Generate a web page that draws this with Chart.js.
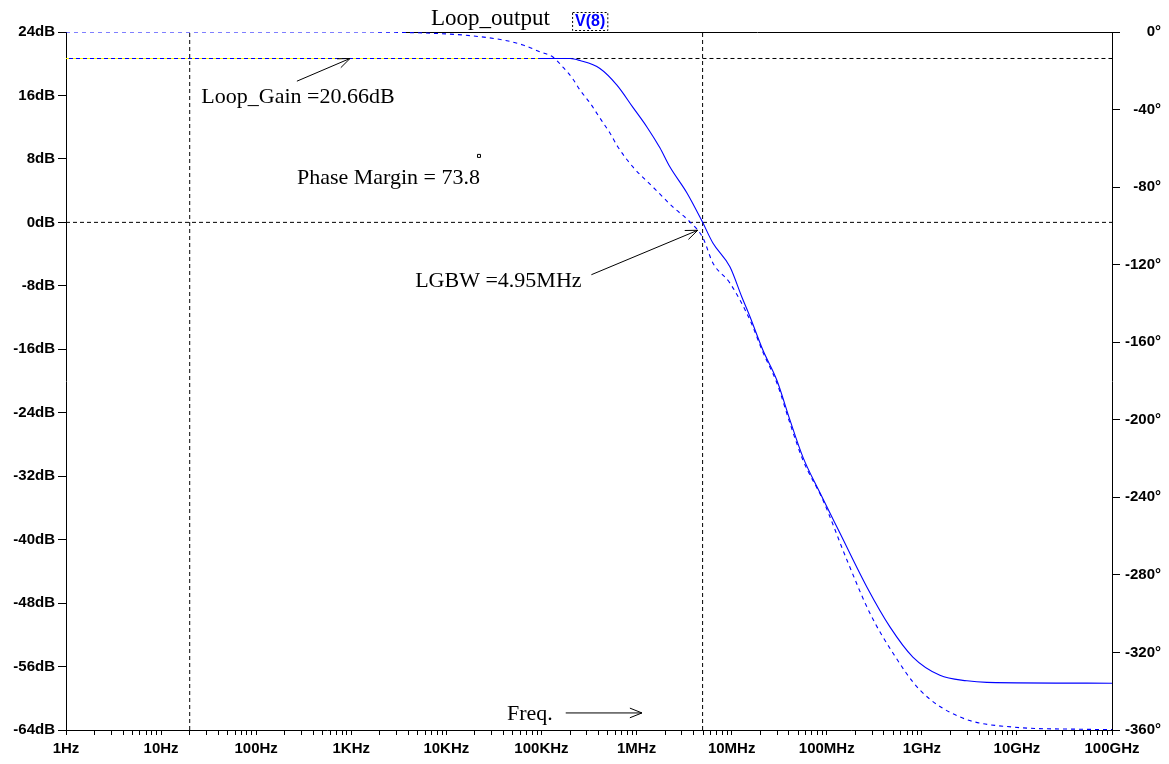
<!DOCTYPE html>
<html>
<head>
<meta charset="utf-8">
<script src="https://cdn.jsdelivr.net/npm/chart.js@4"></script>
<style>
  html, body { margin: 0; padding: 0; background: #fff; }
  #wrap { width: 1169px; height: 764px; }
</style>
</head>
<body>
<div id="wrap"><canvas id="loopChart" width="1169" height="764"></canvas></div>
<script>
// loop gain (solid) - Hz / dB
const gainFreqs = [1, 10, 100, 1e3, 1e4, 1e5, 2e5, 2.54e5, 4.12e5, 6.22e5, 9.16e5, 1.29e6, 1.76e6, 2.24e6,
  3.39e6, 4.95e6, 6.35e6, 9.59e6, 1.28e7, 1.56e7, 2.13e7, 2.99e7, 4.1e7, 5.62e7, 8.49e7, 1.38e8, 2.65e8,
  4.62e8, 8.05e8, 1.55e9, 2.98e9, 4.84e9, 1e11];
const gainDb = [20.66, 20.66, 20.66, 20.66, 20.66, 20.66, 20.66, 20.4, 19.4, 17.3, 14.5, 12.0, 9.4, 7.0,
  3.7, 0, -2.6, -5.6, -9.4, -11.9, -16.1, -19.9, -24.9, -29.6, -34.1, -39.2, -46.0,
  -51.0, -54.8, -57.1, -57.8, -58.0, -58.1];

// loop phase (dashed) - Hz / degrees
const phaseFreqs = [1, 1e3, 1.01e4, 2.25e4, 4.34e4, 6.38e4, 9.64e4, 1.32e5, 1.68e5, 2.14e5, 2.54e5, 3.24e5,
  4.12e5, 5.25e5, 6.37e5, 9.16e5, 1.49e6, 2.42e6, 3.65e6, 4.99e6, 6.35e6, 9.59e6, 1.56e7, 2.13e7, 2.99e7,
  4.1e7, 5.62e7, 9.12e7, 1.63e8, 2.84e8, 4.97e8, 9.55e8, 2.52e9, 9.08e9, 4.57e10, 1e11];
const phaseDeg = [0, 0, -1.0, -2.4, -4.5, -6.7, -10.2, -12.9, -18.1, -24.2, -29.9, -36.6,
  -44.4, -52.1, -59.3, -69.6, -80.0, -90.3, -98.0, -106.2, -119.1, -129.5, -148.6, -165.1, -181.0,
  -201.7, -220.8, -241.4, -272.3, -299.7, -320.3, -339.4, -353.3, -358.5, -359.6, -359.8];

const freqTickLabels = ["1Hz", "10Hz", "100Hz", "1KHz", "10KHz", "100KHz", "1MHz", "10MHz", "100MHz", "1GHz", "10GHz", "100GHz"];
const dbRange = [-64, 24];
const degRange = [-360, 0];

// cursors
const loopGain = 20.66;
const lgbwFreq = 4.95e6;
const cursorFreq = 20;
const yellowEndFreq = 1e5;

const BLUE = "#0000ff";
const serif = "'Liberation Serif', 'Times New Roman', serif";
const axisFont = { family: "'Liberation Sans', Arial, sans-serif", size: 15, weight: "bold" };

const pts = (xs, ys) => xs.map((f, i) => ({ x: f, y: ys[i] }));

function arrow(ctx, x1, y1, x2, y2) {
  const a = Math.atan2(y2 - y1, x2 - x1);
  const h = 13, s = 0.38;
  ctx.beginPath();
  ctx.moveTo(x1, y1);
  ctx.lineTo(x2, y2);
  ctx.moveTo(x2 - h * Math.cos(a - s), y2 - h * Math.sin(a - s));
  ctx.lineTo(x2, y2);
  ctx.lineTo(x2 - h * Math.cos(a + s), y2 - h * Math.sin(a + s));
  ctx.stroke();
}

const frame = {
  id: "frame",
  beforeDatasetsDraw(chart) {
    const { ctx, chartArea: area, scales: { x } } = chart;
    ctx.save();
    ctx.strokeStyle = "#000";
    ctx.lineWidth = 1;
    ctx.beginPath();
    ctx.moveTo(x.getPixelForValue(3.5e3), area.top + 0.5);
    ctx.lineTo(area.right, area.top + 0.5);
    ctx.stroke();
    ctx.restore();
  },
  afterDraw(chart) {
    const { ctx, chartArea: area, scales: { x, y } } = chart;
    ctx.save();
    ctx.fillStyle = "#000";
    ctx.strokeStyle = "#000";
    ctx.lineWidth = 1;
    ctx.textBaseline = "alphabetic";
    ctx.font = "22px " + serif;

    // Loop gain note
    ctx.fillText("Loop_Gain =20.66dB", x.getPixelForValue(26.5), y.getPixelForValue(15.05));
    arrow(ctx, x.getPixelForValue(268), y.getPixelForValue(17.8), x.getPixelForValue(970), y.getPixelForValue(loopGain));

    // phase margin note
    const pmText = "Phase Margin = 73.8";
    const pmX = x.getPixelForValue(268), pmY = y.getPixelForValue(4.85);
    ctx.fillText(pmText, pmX, pmY);
    const pmEnd = pmX + ctx.measureText(pmText).width;
    ctx.beginPath();
    ctx.rect(pmEnd - 2.5, pmY - 29.5, 3, 3);
    ctx.stroke();

    // LGBW note
    ctx.fillText("LGBW =4.95MHz", x.getPixelForValue(4.7e3), y.getPixelForValue(-8.15));
    arrow(ctx, x.getPixelForValue(3.35e5), y.getPixelForValue(-6.6), x.getPixelForValue(4.4e6), y.getPixelForValue(-1.0));

    // Freq. arrow
    ctx.fillText("Freq.", x.getPixelForValue(4.34e4), y.getPixelForValue(-62.7));
    arrow(ctx, x.getPixelForValue(1.8e5), y.getPixelForValue(-61.85), x.getPixelForValue(1.14e6), y.getPixelForValue(-61.85));

    // title + trace legend
    ctx.font = "23px " + serif;
    ctx.fillText("Loop_output", x.getPixelForValue(6.9e3), area.top - 7);
    ctx.font = "bold 16px 'Liberation Sans Narrow', 'Liberation Sans', sans-serif";
    const lx = x.getPixelForValue(2.1e5);
    const lw = ctx.measureText("V(8)").width;
    ctx.fillStyle = BLUE;
    ctx.fillText("V(8)", lx + 3, area.top - 6);
    ctx.setLineDash([2, 2]);
    ctx.strokeStyle = "#000";
    ctx.strokeRect(lx + 0.5, area.top - 19.5, lw + 5, 18);
    ctx.restore();
  }
};

const xTickValues = [];
for (let e = 0; e <= 10; e++) {
  for (let m = 1; m <= 9; m++) xTickValues.push(m * Math.pow(10, e));
}
xTickValues.push(1e11);

new Chart(document.getElementById("loopChart"), {
  type: "line",
  data: {
    datasets: [
      {
        label: "yellow cursor",
        data: pts([1, yellowEndFreq], [loopGain, loopGain]),
        borderColor: "#ffff00",
        borderWidth: 1.2,
        borderDash: [3, 4],
        yAxisID: "y",
        order: 1,
      },
      {
        label: "Loop_output gain",
        data: pts(gainFreqs, gainDb),
        borderColor: BLUE,
        borderWidth: 1.1,
        cubicInterpolationMode: "monotone",
        yAxisID: "y",
        order: 2,
      },
      {
        label: "Loop_output phase",
        data: pts(phaseFreqs, phaseDeg),
        borderColor: BLUE,
        borderWidth: 1.1,
        borderDash: [4, 4],
        cubicInterpolationMode: "monotone",
        yAxisID: "y1",
        order: 3,
      },
      {
        label: "gain cursor",
        data: pts([yellowEndFreq, 1e11], [loopGain, loopGain]),
        borderColor: "#000",
        borderWidth: 1,
        borderDash: [4, 3],
        yAxisID: "y",
        order: 4,
      },
      {
        label: "0dB",
        data: pts([1, 1e11], [0, 0]),
        borderColor: "#000",
        borderWidth: 1,
        borderDash: [4, 3],
        yAxisID: "y",
        order: 4,
      },
      {
        label: "20Hz cursor",
        data: pts([cursorFreq, cursorFreq], dbRange),
        borderColor: "#000",
        borderWidth: 1,
        borderDash: [4, 3],
        yAxisID: "y",
        order: 4,
      },
      {
        label: "LGBW cursor",
        data: pts([lgbwFreq, lgbwFreq], dbRange),
        borderColor: "#000",
        borderWidth: 1,
        borderDash: [4, 3],
        yAxisID: "y",
        order: 4,
      },
    ],
  },
  options: {
    responsive: false,
    animation: false,
    devicePixelRatio: 1,
    layout: { padding: { top: 32, right: 8, left: 0, bottom: 0 } },
    elements: { point: { radius: 0 } },
    plugins: { legend: { display: false }, tooltip: { enabled: false } },
    scales: {
      x: {
        type: "logarithmic",
        min: 1,
        max: 1e11,
        afterBuildTicks: (s) => { s.ticks = xTickValues.map((v) => ({ value: v })); },
        afterFit: (s) => { s.height = 34; },
        ticks: {
          autoSkip: false,
          maxRotation: 0,
          padding: 5,
          color: "#000",
          font: axisFont,
          callback: (v) => {
            const e = Math.log10(v);
            return Math.abs(e - Math.round(e)) < 1e-6 ? freqTickLabels[Math.round(e)] : "";
          },
        },
        grid: { drawOnChartArea: false, tickLength: 5, color: "#000" },
        border: { color: "#000", width: 1 },
      },
      y: {
        position: "left",
        min: dbRange[0],
        max: dbRange[1],
        afterFit: (s) => { s.width = 66; },
        ticks: { stepSize: 8, padding: 3, color: "#000", font: axisFont, callback: (v) => v + "dB" },
        grid: { drawOnChartArea: false, tickLength: 8, color: "#000" },
        border: { color: "#000", width: 1 },
      },
      y1: {
        position: "right",
        min: degRange[0],
        max: degRange[1],
        afterFit: (s) => { s.width = 49; },
        ticks: { stepSize: 40, padding: 0, crossAlign: "far", color: "#000", font: axisFont, callback: (v) => v + "°" },
        grid: { drawOnChartArea: false, tickLength: 8, color: "#000" },
        border: { color: "#000", width: 1 },
      },
    },
  },
  plugins: [frame],
});
</script>
</body>
</html>
